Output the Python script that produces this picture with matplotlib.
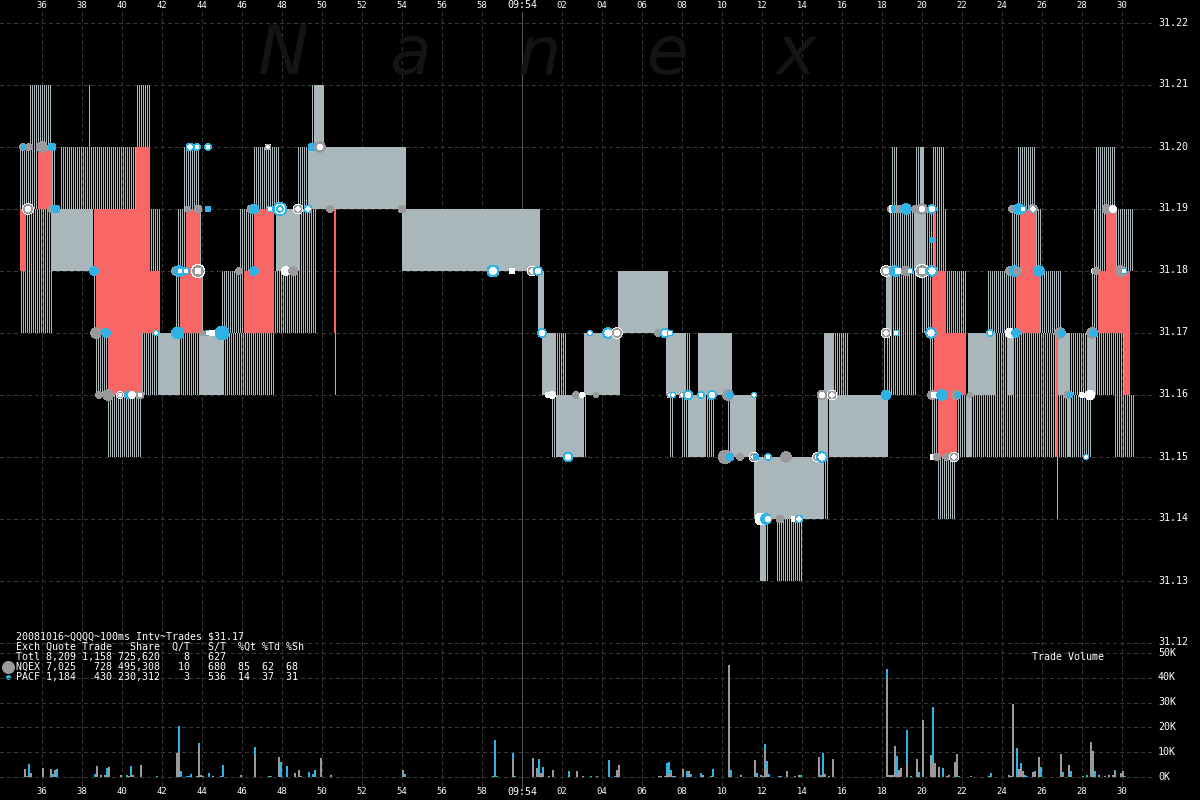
import numpy as np
import matplotlib
matplotlib.use("Agg")
import matplotlib.pyplot as plt

W, H = 1200, 800
GRAY, CYAN, RED, WHITE = '#aab8bc', '#5ad2ff', '#f96666', '#ffffff'
DOT_GRAY, DOT_CYAN, BAR_CYAN, BAR_GRAY = '#9a9a9c', '#2fb2e6', '#2fb2e6', '#9a9a9c'

# Spread spans per exchange: (start second, end second, low price, high price)
gray_spans = [
 (35.4,36.45,31.20,31.21),(49.5,49.6,31.20,31.21),
 (34.9,35.8,31.19,31.20),(36.5,36.65,31.19,31.20),(43.1,43.85,31.19,31.20),(46.6,47.85,31.19,31.20),(48.8,49.3,31.19,31.20),
 (38.5,38.6,31.18,31.19),(42.8,43.15,31.18,31.19),(43.9,44.0,31.18,31.19),(45.9,46.55,31.18,31.19),
 (38.6,38.7,31.17,31.18),(42.7,42.85,31.17,31.18),(44.0,44.05,31.17,31.18),(45.0,46.05,31.17,31.18),
 (38.7,39.3,31.16,31.17),(41.0,41.8,31.16,31.17),
 (39.3,40.95,31.15,31.16),(61.5,61.7,31.15,31.16),(67.4,67.6,31.15,31.16),(68.0,68.3,31.15,31.16),(70.3,70.4,31.15,31.16),
 (78.5,78.75,31.19,31.20),(79.7,79.95,31.19,31.20),(84.8,85.65,31.19,31.20),(88.7,89.65,31.19,31.20),
 (78.4,79.65,31.18,31.19),(84.5,84.9,31.18,31.19),(85.7,85.95,31.18,31.19),(88.6,89.2,31.18,31.19),(89.7,90.55,31.18,31.19),
 (80.0,80.5,31.17,31.18),(83.3,84.7,31.17,31.18),(85.95,86.95,31.17,31.18),(88.5,88.8,31.17,31.18),
 (78.1,78.2,31.16,31.17),(80.4,80.6,31.16,31.17),
 (80.5,80.8,31.15,31.16),(81.75,82.25,31.15,31.16),(87.35,88.45,31.15,31.16),
 (80.8,81.65,31.14,31.15),
]
cyan_spans = [
 (38.35,38.4,31.20,31.21),(40.75,41.4,31.20,31.21),
 (36.95,40.7,31.19,31.20),
 (35.2,36.5,31.18,31.19),(41.4,41.9,31.18,31.19),(48.9,49.7,31.18,31.19),
 (34.95,36.5,31.17,31.18),(47.65,49.7,31.17,31.18),
 (42.9,43.95,31.16,31.17),(45.1,47.6,31.16,31.17),(50.65,50.7,31.16,31.17),(61.7,62.2,31.16,31.17),(68.2,68.4,31.16,31.17),
 (75.6,76.3,31.16,31.17),(78.2,79.7,31.16,31.17),(83.65,84.35,31.16,31.17),(84.6,86.65,31.16,31.17),(87.35,88.35,31.16,31.17),(88.7,90.05,31.16,31.17),
 (63.1,63.2,31.15,31.16),(69.25,69.6,31.15,31.16),(75.35,75.45,31.15,31.16),(82.5,86.65,31.15,31.16),(86.85,87.35,31.15,31.16),(89.65,90.6,31.15,31.16),
 (75.1,75.3,31.14,31.15),(86.75,86.8,31.14,31.15),
 (72.2,72.3,31.13,31.14),(72.75,74.0,31.13,31.14),
 (80.2,80.6,31.18,31.19),(80.7,81.2,31.18,31.19),(78.5,79.7,31.17,31.18),(81.2,82.2,31.17,31.18),
 (80.55,81.1,31.19,31.20),
]
both_spans = [
 (49.6,50.05,31.20,31.21),(49.3,49.75,31.19,31.20),(49.85,54.15,31.19,31.20),
 (36.55,38.5,31.18,31.19),(47.75,48.9,31.18,31.19),(54.0,60.9,31.18,31.19),
 (60.8,61.1,31.17,31.18),(64.8,67.3,31.17,31.18),
 (41.8,42.9,31.16,31.17),(43.95,45.1,31.16,31.17),(61.0,61.7,31.16,31.17),(63.1,64.85,31.16,31.17),(67.2,68.2,31.16,31.17),
 (68.85,70.5,31.16,31.17),(75.1,75.6,31.16,31.17),
 (61.7,63.1,31.15,31.16),(68.3,69.2,31.15,31.16),(70.4,71.7,31.15,31.16),(74.8,75.3,31.15,31.16),(75.45,78.3,31.15,31.16),
 (71.6,72.0,31.14,31.15),(72.05,75.1,31.14,31.15),(71.9,72.2,31.13,31.14),
 (79.95,80.1,31.19,31.20),(79.65,80.15,31.18,31.19),(78.2,78.5,31.17,31.18),
 (82.35,83.65,31.16,31.17),(84.35,84.6,31.16,31.17),(86.85,87.35,31.16,31.17),(88.35,88.7,31.16,31.17),
 (82.25,82.5,31.15,31.16),
]
red_spans = [
 (35.8,36.5,31.19,31.20),(40.7,41.4,31.19,31.20),
 (34.9,35.2,31.18,31.19),(38.6,41.4,31.18,31.19),(43.2,43.9,31.18,31.19),(46.6,47.6,31.18,31.19),(50.6,50.7,31.18,31.19),
 (38.7,41.9,31.17,31.18),(42.9,44.0,31.17,31.18),(46.1,47.6,31.17,31.18),(50.6,50.7,31.17,31.18),
 (39.3,41.0,31.16,31.17),
 (80.6,80.7,31.18,31.19),(84.9,85.7,31.18,31.19),(89.2,89.7,31.18,31.19),
 (80.5,81.2,31.17,31.18),(84.7,85.9,31.17,31.18),(88.8,90.4,31.17,31.18),
 (80.6,82.2,31.16,31.17),(86.7,86.8,31.16,31.17),(90.1,90.4,31.16,31.17),
 (80.8,81.75,31.15,31.16),(86.7,86.8,31.15,31.16),
]

# Trade markers: price level -> (second, diameter, kind)
markers = {
 31.20: [(35.05,7,'g'),(35.1,6,'c'),(35.35,7,'g'),(36.0,11,'g'),(36.5,8,'c'),(43.4,8,'cw'),(43.75,7,'cw'),(44.3,7,'cw'),(47.3,6,'wg'),(49.5,8,'c'),(49.9,11,'gw')],
 31.19: [(35.3,11,'wg'),(36.5,8,'g'),(36.7,8,'c'),(43.3,6,'g'),(43.8,8,'g'),(44.3,6,'c'),(46.45,8,'g'),(46.6,10,'c'),(47.4,6,'cw'),(47.9,13,'cwc'),(48.8,10,'wg'),(49.3,8,'cw'),(50.4,7,'g'),(54.0,8,'g'),
         (78.45,7,'g'),(78.55,8,'w'),(78.65,8,'c'),(78.85,8,'g'),(79.2,11,'c'),(79.65,7,'g'),(80.0,11,'gw'),(80.5,9,'cw'),(84.5,7,'g'),(84.85,11,'c'),(85.05,7,'cw'),(85.55,9,'gw'),(89.25,9,'g'),(89.55,7,'w')],
 31.185: [(80.5,5,'c')],
 31.18: [(38.6,9,'c'),(42.7,9,'g'),(42.85,11,'c'),(42.9,4,'w'),(43.2,7,'cw'),(43.8,13,'wg'),(45.85,7,'g'),(46.6,9,'c'),(48.2,9,'w'),(48.55,9,'g'),(58.55,12,'cw'),(59.5,6,'w'),(60.5,10,'wg'),(60.8,9,'cw'),
         (78.2,11,'wg'),(78.65,11,'c'),(78.8,6,'w'),(79.2,10,'g'),(79.4,6,'cw'),(80.0,13,'wg'),(80.5,11,'cw'),(84.4,9,'g'),(84.65,11,'c'),(84.8,8,'g'),(85.85,11,'c'),(88.6,5,'w'),(88.7,7,'g'),(89.95,11,'g'),(90.1,6,'cw')],
 31.17: [(38.7,11,'g'),(39.2,9,'c'),(41.7,5,'cw'),(42.65,8,'g'),(42.8,12,'c'),(44.0,5,'g'),(44.3,6,'cw'),(44.5,6,'w'),(45.0,14,'c'),(61.0,9,'cw'),(63.4,5,'cw'),(64.3,11,'cw'),(64.75,11,'wg'),(66.8,7,'g'),(67.15,10,'cw'),(67.4,6,'cw'),
         (78.2,10,'wg'),(78.7,6,'cw'),(80.45,11,'cw'),(83.4,7,'cw'),(84.4,10,'w'),(84.7,9,'c'),(86.9,11,'g'),(87.0,7,'c'),(88.5,11,'g'),(88.6,8,'c')],
 31.16: [(38.85,7,'g'),(39.3,11,'g'),(39.9,7,'wg'),(40.3,7,'c'),(40.5,7,'w'),(40.9,8,'gw'),(61.3,5,'w'),(61.5,7,'w'),(62.7,7,'g'),(63.0,5,'w'),(63.7,5,'g'),(67.4,6,'wg'),(67.55,5,'cw'),(68.0,6,'wg'),(68.3,10,'cw'),(68.95,7,'cw'),(69.5,9,'cw'),(70.3,11,'g'),(70.4,7,'c'),(71.6,5,'cw'),
         (75.0,10,'gw'),(75.5,10,'wg'),(78.2,10,'c'),(80.5,9,'g'),(80.6,6,'w'),(81.0,11,'c'),(81.7,10,'g'),(81.8,6,'c'),(82.4,5,'g'),(87.3,8,'g'),(87.4,6,'c'),(88.0,5,'w'),(88.4,10,'w')],
 31.15: [(62.3,10,'cw'),(70.15,13,'g'),(70.4,8,'c'),(70.9,7,'g'),(71.6,10,'wg'),(71.7,6,'c'),(72.3,7,'cw'),(73.2,11,'g'),(74.75,9,'wg'),(75.0,11,'cw'),(80.55,6,'w'),(80.75,7,'g'),(81.25,7,'g'),(81.6,10,'wg'),(88.2,5,'cw')],
 31.14: [(71.95,12,'w'),(72.2,11,'c'),(72.3,5,'w'),(72.9,8,'g'),(73.6,6,'w'),(73.85,8,'cw')],
}

# Volume in thousands of shares
vol_t = [35.1,35.2,35.3,35.4,36.0,36.4,36.5,36.6,36.7,38.6,38.7,38.9,39.1,39.2,39.3,39.9,40.2,40.3,40.4,40.5,40.9,41.7,42.7,42.8,42.9,43.2,43.3,43.4,43.7,43.8,43.9,44.0,44.3,44.5,44.9,45.0,45.9,46.6,47.3,47.4,47.8,47.9,48.2,48.6,48.8,48.9,49.3,49.5,49.6,49.9,50.4,
 54.0,54.1,58.5,58.6,58.7,59.5,59.6,60.5,60.7,60.8,60.9,61.0,61.3,61.5,62.3,62.7,63.0,63.4,63.7,64.3,64.6,64.7,64.8,66.8,66.9,67.1,67.2,67.3,67.4,67.5,67.6,68.0,68.2,68.3,68.4,68.9,69.0,69.4,69.5,70.3,70.4,70.9,71.6,71.7,71.9,72.0,72.1,72.2,72.3,72.8,72.9,73.2,73.6,73.8,73.9,
 74.8,74.9,75.0,75.1,75.3,75.5,78.2,78.3,78.4,78.5,78.6,78.7,78.8,78.9,79.2,79.4,79.7,79.8,80.0,80.4,80.5,80.6,80.8,81.0,81.2,81.3,81.6,81.7,81.8,82.4,83.3,83.4,84.3,84.4,84.5,84.7,84.8,84.9,85.0,85.1,85.2,85.5,85.6,85.8,85.9,86.9,87.0,87.3,87.4,88.0,88.2,88.4,88.5,88.6,88.8,89.1,89.3,89.5,89.6,89.9,90.0,90.1]
vol_gray = [3.4,0,0.5,1.7,3.8,3.4,0,3,0,0,4.6,.7,1,0,4.2,.7,0,.5,1,1,5,0,9.8,10.2,0,0,0,0,0,12.2,1,.5,0,.3,.3,0,1,9,.6,0,8.2,0,0,1.7,3,.3,0,0,0,7.8,1,
 3,0,.3,0,0,7.4,0,7.8,3.8,1,1.7,1.7,.3,3,0,2.6,.3,0,.3,0,0,3,5,.3,.3,.3,1.7,1,1.7,0,.3,3.4,0,2.6,0,0,1,.3,0,45.3,0,1,7,0,1,.3,11,3.4,0,0,.5,2.6,.3,1,0,
 8.2,0,1.3,1.3,.3,7.4,40,1,.7,1,12.6,1,3,3.8,5.4,0,7.4,0,23,9,5.8,5.8,4.2,0,.5,1,6.2,9.4,0,.3,.3,0,1,.5,29.6,0,3.4,3.4,2.6,0,0,2.2,2.2,8.2,0,9.4,1,5,0,.3,0,14.2,10.6,0,.7,.3,1,.7,2.2,1.7,2.6,0]
vol_cyan = [0,.3,4.7,0,0,0,1.3,0,3.4,1.3,0,0,0,3.8,0,0,1,0,3.6,0,0,.3,0,10.5,2.6,.3,.3,1.3,.3,1.6,0,0,1.7,0,0,5,0,3.2,0,.3,0,6.2,4.6,0,0,0,2.2,1.3,3,0,0,
 0,1.3,0,15,.5,2.4,.5,0,0,6.4,0,2.5,0,0,2.6,0,0,.5,0,7,.5,0,0,0,0,0,4.1,5.2,1.3,.5,0,0,2.6,0,1.3,1.7,0,0,3.4,0,3,0,0,1.7,0,0,2.4,3.2,1.3,.3,0,0,0,0,1,
 0,1,8.5,0,0,0,3.7,0,0,0,0,7.6,0,0,13.6,.3,0,2.2,0,0,22.6,0,0,3.8,0,0,0,0,.5,0,0,1.7,0,0,0,11.8,0,2.4,0,1,.3,0,.4,0,4.2,0,1.2,0,2.6,0,1,0,0,2.6,0,0,0,0,.8,0,0,.5]

time_ticks = list(range(36, 92, 2))
price_ticks = [31.12,31.13,31.14,31.15,31.16,31.17,31.18,31.19,31.20,31.21,31.22]
vol_ticks = [0,10,20,30,40,50]
header = ["20081016~QQQQ~100ms Intv~Trades $31.17",
          "Exch Quote Trade   Share  Q/T   S/T  %Qt %Td %Sh",
          "Totl 8,209 1,158 725,620    8   627",
          "NQEX 7,025   728 495,308   10   680  85  62  68",
          "PACF 1,184   430 230,312    3   536  14  37  31"]
header_y = [636.5, 647, 657, 667, 677]
watermark = [("N",283),("a",410),("n",539),("e",668),("x",796)]

fig = plt.figure(figsize=(W/100, H/100), dpi=100, facecolor='black')
ax = fig.add_axes([0,0,1,1], facecolor='black')
ax.set_xlim(33.9, 93.9)                         # 20 px per second
ax.set_ylim(31.20-653/6200, 31.20+147/6200)     # 62 px per cent
ax.axis('off')
vax = fig.add_axes([0,0,1,1], facecolor='none')
vax.set_xlim(33.9, 93.9)
vax.set_ylim(-23/2.48, 777/2.48)                # 2.48 px per thousand
vax.axis('off')

def py(y):
    return 1 - y/H

MONO = 'DejaVu Sans Mono'
dash = (0,(4,3))
grid = '#363636'
x_end = 33.9 + 1153/20
y_top = 31.20 + (147-12)/6200
y_bot = 31.20 - (785-147)/6200
ax.vlines(time_ticks, y_bot, y_top, colors=grid, linewidth=0.72, linestyles=[dash], antialiased=False, zorder=1)
ax.hlines(price_ticks, 33.9, x_end, colors=grid, linewidth=0.72, linestyles=[dash], antialiased=False, zorder=1)
vax.hlines(vol_ticks, 33.9, x_end, colors=grid, linewidth=0.72, linestyles=[dash], antialiased=False, zorder=1)
ax.vlines([60], y_bot-3/6200, y_top, colors='#555555', linewidth=0.72, antialiased=False, zorder=1.5)

for ch, px in watermark:
    fig.text(px/W, py(74), ch, color='#141414', fontsize=49, style='italic', family='DejaVu Sans',
             ha='center', va='baseline', zorder=0.5)

def stripes(spans, offset, color, z):
    xs, lo, hi = [], [], []
    for t0, t1, a, b in spans:
        k0, k1 = int(np.floor(t0*10+1e-6)), int(np.ceil(t1*10-1e-6))
        for k in range(k0, k1):
            xs.append(k/10+offset); lo.append(a); hi.append(b)
    lc = ax.vlines(xs, lo, hi, colors=color, linewidth=0.72, antialiased=False, zorder=z)
    lc.set_snap(False)

stripes(gray_spans+both_spans, 0.025, GRAY, 2)
stripes(cyan_spans+both_spans, 0.075, CYAN, 2)
for t0, t1, a, b in red_spans:
    ax.bar(t0, b-a, width=t1-t0, bottom=a, align='edge', color=RED, linewidth=0, antialiased=False, zorder=3)

layers = {'g':[(1,DOT_GRAY)], 'c':[(1,DOT_CYAN)], 'w':[(1,WHITE)],
          'cw':[(1,DOT_CYAN),(.55,WHITE)], 'gw':[(1,DOT_GRAY),(.5,WHITE)],
          'wg':[(1,WHITE),(.8,DOT_GRAY),(.45,WHITE)],
          'cwc':[(1,DOT_CYAN),(.75,WHITE),(.5,DOT_CYAN),(.2,WHITE)]}
mx, my, ms, mc = [], [], [], []
for price, row in markers.items():
    for t, d, kind in row:
        for frac, col in layers[kind]:
            mx.append(t); my.append(price); ms.append((d*frac*0.72)**2); mc.append(col)
ax.scatter(mx, my, s=ms, c=mc, linewidths=0, antialiased=False, zorder=4, clip_on=False)

vt, vg, vc = np.array(vol_t), np.array(vol_gray), np.array(vol_cyan)
vax.bar(vt, vg, width=0.1, align='edge', color=BAR_GRAY, linewidth=0, antialiased=False, zorder=3)
vax.bar(vt, vc, width=0.1, bottom=vg, align='edge', color=BAR_CYAN, linewidth=0, antialiased=False, zorder=3)

for t in time_ticks:
    px = (t-33.9)*20
    if t == 60:
        lab, fs = "09:54", 7.2
    else:
        lab, fs = f"{t % 60:02d}", 6.4
    for y in (5, 792):
        fig.text(px/W, py(y), lab, color=WHITE, fontsize=fs, family=MONO, ha='center', va='center')
for p in price_ticks:
    y = 147 + (31.20-p)*6200
    fig.text(1158/W, py(y-0.5), f"{p:.2f}", color=WHITE, fontsize=7.2, family=MONO, ha='left', va='center')
for v in vol_ticks:
    y = 777 - v*2.48
    fig.text(1158/W, py(y-0.5), f"{v}K", color=WHITE, fontsize=7.2, family=MONO, ha='left', va='center')
for s, y in zip(header, header_y):
    fig.text(16/W, py(y), s, color=WHITE, fontsize=7.2, family=MONO, ha='left', va='center')
fig.text(1032/W, py(657.5), "Trade Volume", color=WHITE, fontsize=7.2, family=MONO, ha='left', va='center')

lx = 33.9 + 8/20
ax.scatter([lx], [31.20-(666.5-147)/6200], s=(13*.72)**2, c=DOT_GRAY, linewidths=0, antialiased=False, zorder=5, clip_on=False)
ax.scatter([lx], [31.20-(677-147)/6200], s=(5*.72)**2, c=DOT_CYAN, linewidths=0, antialiased=False, zorder=5, clip_on=False)

fig.savefig('out.png', dpi=100, facecolor='black')
